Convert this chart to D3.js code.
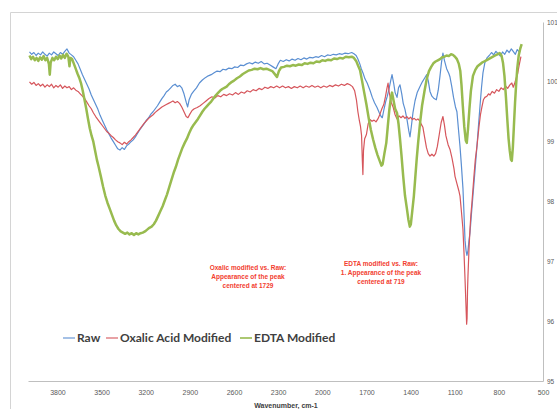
<!DOCTYPE html>
<html>
<head>
<meta charset="utf-8">
<script src="https://cdn.jsdelivr.net/npm/d3@7"></script>
<style>
  body { margin: 0; background: #fff; }
  svg { display: block; }
</style>
</head>
<body>
<svg id="chart"></svg>
<script>
// FTIR spectra, wavenumber (cm-1) vs transmittance
const wavenumberTicks = [3800, 3500, 3200, 2900, 2600, 2300, 2000, 1700, 1400, 1100, 800, 500];
const transmittanceTicks = [101, 100, 99, 98, 97, 96, 95];
const seriesNames = ['Raw', 'Oxalic Acid Modified', 'EDTA Modified'];
const seriesColors = ['#5b8fd2', '#d6565c', '#98bb4f'];

const rawSeries = [
  [3990,100.50],[3975,100.46],[3960,100.49],[3945,100.44],[3930,100.48],[3915,100.45],[3900,100.50],[3885,100.46],
  [3870,100.43],[3855,100.48],[3840,100.45],[3825,100.50],[3810,100.47],[3795,100.44],[3780,100.49],[3765,100.46],
  [3750,100.51],[3735,100.55],[3720,100.48],[3705,100.45],[3690,100.42],[3675,100.36],[3660,100.30],[3645,100.21],
  [3630,100.12],[3615,100.04],[3600,99.96],[3585,99.88],[3570,99.78],[3555,99.70],[3540,99.62],[3525,99.54],
  [3510,99.44],[3495,99.36],[3480,99.28],[3465,99.20],[3450,99.13],[3435,99.06],[3420,99.00],[3405,98.94],
  [3390,98.88],[3375,98.86],[3360,98.90],[3345,98.87],[3330,98.93],[3315,98.96],[3300,99.00],[3285,99.03],
  [3270,99.08],[3255,99.14],[3240,99.20],[3225,99.25],[3210,99.30],[3195,99.36],[3180,99.40],[3165,99.46],
  [3150,99.50],[3135,99.55],[3120,99.60],[3105,99.66],[3090,99.72],[3075,99.77],[3060,99.83],[3045,99.86],
  [3030,99.90],[3015,99.94],[3000,99.96],[2985,99.92],[2970,99.94],[2955,99.90],[2940,99.80],[2925,99.66],
  [2915,99.58],[2905,99.70],[2890,99.79],[2875,99.84],[2855,99.90],[2835,99.98],[2815,100.03],[2795,100.07],
  [2775,100.10],[2755,100.12],[2735,100.15],[2715,100.18],[2695,100.17],[2675,100.21],[2655,100.20],[2635,100.23],
  [2615,100.22],[2595,100.25],[2575,100.24],[2555,100.28],[2535,100.27],[2515,100.30],[2495,100.32],[2475,100.30],
  [2455,100.33],[2435,100.31],[2415,100.34],[2395,100.30],[2375,100.31],[2355,100.28],[2335,100.25],[2315,100.22],
  [2300,100.30],[2285,100.36],[2265,100.34],[2245,100.37],[2225,100.35],[2205,100.38],[2185,100.36],[2165,100.39],
  [2145,100.37],[2125,100.40],[2105,100.38],[2085,100.41],[2065,100.40],[2045,100.42],[2025,100.41],[2005,100.44],
  [1985,100.42],[1965,100.45],[1945,100.44],[1925,100.46],[1905,100.45],[1885,100.47],[1865,100.46],[1845,100.48],
  [1825,100.47],[1800,100.49],[1785,100.47],[1770,100.44],[1758,100.38],[1745,100.30],[1735,100.22],[1722,100.14],
  [1710,100.05],[1695,99.98],[1676,99.86],[1660,99.74],[1645,99.65],[1628,99.57],[1612,99.48],[1600,99.42],
  [1592,99.40],[1580,99.55],[1568,99.68],[1558,99.76],[1545,99.90],[1535,100.02],[1526,100.12],[1515,99.98],
  [1505,99.82],[1492,99.74],[1482,99.90],[1472,99.95],[1460,99.80],[1450,99.64],[1438,99.54],[1425,99.38],
  [1412,99.18],[1404,99.08],[1395,99.25],[1384,99.48],[1370,99.68],[1355,99.82],[1336,99.92],[1320,100.00],
  [1305,100.06],[1290,100.12],[1280,100.02],[1268,99.84],[1255,99.76],[1240,99.72],[1225,99.70],[1212,99.86],
  [1200,100.10],[1190,100.32],[1180,100.48],[1170,100.36],[1155,100.22],[1140,100.14],[1132,100.08],[1120,99.92],
  [1108,99.74],[1095,99.58],[1085,99.50],[1075,99.22],[1064,98.92],[1055,98.62],[1044,98.22],[1037,97.80],
  [1030,97.35],[1023,97.18],[1017,97.10],[1010,97.18],[1003,97.35],[996,97.48],[986,97.80],[976,98.10],
  [962,98.52],[949,98.92],[938,99.28],[928,99.60],[918,99.90],[908,100.15],[895,100.32],[881,100.40],
  [865,100.44],[850,100.49],[835,100.45],[820,100.51],[805,100.47],[790,100.43],[775,100.50],[760,100.46],
  [745,100.53],[730,100.49],[715,100.55],[700,100.50],[688,100.46],[675,100.54],[662,100.50],[652,100.58],[645,100.61]
];

const oxalicSeries = [
  [3990,100.00],[3975,99.96],[3960,99.99],[3945,99.94],[3930,99.97],[3915,99.93],[3900,99.96],[3885,99.91],
  [3870,99.95],[3855,99.92],[3840,99.96],[3825,99.90],[3810,99.94],[3795,99.91],[3780,99.95],[3765,99.89],
  [3750,99.93],[3735,99.90],[3720,99.92],[3705,99.87],[3690,99.90],[3675,99.86],[3660,99.84],[3645,99.80],
  [3630,99.76],[3615,99.72],[3600,99.66],[3585,99.60],[3570,99.55],[3555,99.48],[3540,99.42],[3525,99.37],
  [3510,99.32],[3495,99.27],[3480,99.22],[3465,99.17],[3450,99.14],[3435,99.10],[3420,99.07],[3405,99.03],
  [3390,99.00],[3375,98.98],[3360,98.95],[3345,98.99],[3330,98.96],[3315,99.00],[3300,99.03],[3285,99.07],
  [3270,99.11],[3255,99.16],[3240,99.21],[3225,99.26],[3210,99.31],[3195,99.35],[3180,99.39],[3165,99.42],
  [3150,99.45],[3135,99.49],[3120,99.52],[3105,99.55],[3090,99.58],[3075,99.60],[3060,99.62],[3045,99.64],
  [3030,99.66],[3015,99.68],[3000,99.65],[2985,99.67],[2970,99.64],[2955,99.58],[2940,99.50],[2925,99.42],
  [2913,99.40],[2900,99.46],[2885,99.52],[2870,99.55],[2850,99.57],[2830,99.60],[2810,99.64],[2790,99.68],
  [2770,99.72],[2750,99.75],[2730,99.73],[2710,99.77],[2690,99.75],[2670,99.79],[2650,99.77],[2630,99.80],
  [2610,99.78],[2590,99.82],[2570,99.79],[2550,99.83],[2530,99.81],[2510,99.85],[2490,99.83],[2470,99.87],
  [2450,99.85],[2430,99.89],[2410,99.87],[2390,99.91],[2370,99.89],[2350,99.92],[2330,99.90],[2310,99.93],
  [2290,99.90],[2270,99.93],[2250,99.90],[2230,99.92],[2210,99.89],[2190,99.92],[2170,99.90],[2150,99.93],
  [2130,99.90],[2110,99.93],[2090,99.91],[2070,99.94],[2050,99.91],[2030,99.93],[2010,99.90],[1990,99.93],
  [1970,99.91],[1950,99.94],[1930,99.92],[1910,99.95],[1890,99.93],[1870,99.96],[1850,99.94],[1830,99.97],
  [1812,99.95],[1795,99.92],[1780,99.85],[1768,99.70],[1758,99.50],[1748,99.35],[1740,99.25],[1733,99.10],
  [1728,98.70],[1724,98.45],[1720,98.85],[1712,99.05],[1700,99.12],[1688,99.30],[1676,99.37],[1662,99.34],
  [1648,99.36],[1635,99.33],[1622,99.38],[1608,99.46],[1595,99.55],[1582,99.62],[1570,99.76],[1560,99.90],
  [1553,99.98],[1545,99.82],[1532,99.66],[1519,99.58],[1505,99.45],[1492,99.38],[1478,99.43],[1465,99.40],
  [1452,99.43],[1438,99.39],[1425,99.42],[1412,99.38],[1400,99.41],[1388,99.37],[1375,99.39],[1362,99.36],
  [1350,99.38],[1336,99.34],[1325,99.28],[1316,99.24],[1305,99.08],[1292,98.90],[1280,98.80],[1268,98.76],
  [1255,98.79],[1242,98.76],[1230,98.80],[1218,98.92],[1205,99.12],[1192,99.32],[1180,99.42],[1170,99.28],
  [1160,99.10],[1145,98.95],[1132,98.87],[1118,98.72],[1105,98.55],[1098,98.42],[1085,98.30],[1072,98.18],
  [1064,98.09],[1055,97.85],[1044,97.54],[1037,97.15],[1030,96.71],[1024,96.30],[1019,95.95],[1016,96.05],
  [1013,96.50],[1010,96.75],[1003,97.20],[996,97.55],[990,97.78],[983,97.98],[970,98.40],[960,98.70],
  [949,98.92],[935,99.25],[925,99.45],[915,99.58],[905,99.70],[895,99.74],[881,99.76],[870,99.80],
  [860,99.78],[845,99.84],[830,99.81],[815,99.87],[800,99.84],[785,99.90],[770,99.87],[755,99.93],
  [740,99.89],[725,99.95],[712,99.98],[702,99.91],[692,99.98],[682,100.06],[672,100.14],[662,100.28],[650,100.42]
];

const edtaSeries = [
  [3990,100.44],[3978,100.38],[3966,100.42],[3954,100.36],[3942,100.40],[3930,100.35],[3918,100.41],[3906,100.37],
  [3894,100.43],[3882,100.36],[3870,100.40],[3858,100.30],[3852,100.12],[3846,100.32],[3834,100.40],[3822,100.36],
  [3810,100.42],[3798,100.38],[3786,100.44],[3774,100.39],[3762,100.45],[3750,100.40],[3738,100.47],[3726,100.42],
  [3718,100.26],[3712,100.40],[3700,100.38],[3688,100.30],[3676,100.22],[3664,100.14],[3652,100.07],[3640,99.98],
  [3628,99.85],[3616,99.70],[3604,99.55],[3592,99.38],[3580,99.22],[3568,99.10],[3556,99.00],[3544,98.85],
  [3532,98.70],[3520,98.58],[3505,98.42],[3490,98.25],[3475,98.10],[3460,97.98],[3445,97.88],[3430,97.78],
  [3415,97.68],[3400,97.60],[3385,97.54],[3370,97.50],[3355,97.48],[3340,97.46],[3325,97.48],[3310,97.45],
  [3295,97.47],[3280,97.44],[3265,97.47],[3250,97.45],[3235,97.47],[3220,97.48],[3205,97.50],[3190,97.53],
  [3175,97.56],[3160,97.58],[3145,97.62],[3130,97.68],[3115,97.76],[3100,97.84],[3085,97.92],[3070,98.02],
  [3055,98.12],[3040,98.24],[3025,98.36],[3010,98.48],[2995,98.58],[2980,98.70],[2965,98.80],[2950,98.90],
  [2935,98.98],[2920,99.05],[2905,99.14],[2890,99.22],[2875,99.28],[2860,99.33],[2845,99.38],[2830,99.44],
  [2815,99.50],[2800,99.55],[2785,99.59],[2770,99.63],[2755,99.67],[2740,99.72],[2725,99.77],[2710,99.81],
  [2695,99.85],[2680,99.88],[2665,99.90],[2650,99.92],[2635,99.96],[2620,99.99],[2600,100.02],[2580,100.06],
  [2560,100.09],[2540,100.13],[2520,100.16],[2500,100.19],[2480,100.20],[2460,100.22],[2440,100.21],[2420,100.23],
  [2400,100.21],[2380,100.22],[2360,100.20],[2340,100.18],[2320,100.12],[2308,100.08],[2295,100.18],[2280,100.24],
  [2260,100.25],[2240,100.27],[2220,100.26],[2200,100.28],[2180,100.27],[2160,100.29],[2140,100.28],[2120,100.31],
  [2100,100.30],[2080,100.32],[2060,100.31],[2040,100.34],[2020,100.33],[2000,100.36],[1980,100.35],[1960,100.37],
  [1940,100.36],[1920,100.39],[1900,100.38],[1880,100.40],[1860,100.39],[1840,100.42],[1820,100.41],[1800,100.42],
  [1785,100.40],[1770,100.35],[1755,100.26],[1744,100.20],[1730,100.02],[1715,99.82],[1700,99.62],[1685,99.40],
  [1670,99.20],[1655,99.04],[1640,98.90],[1625,98.78],[1610,98.68],[1598,98.60],[1590,98.62],[1578,98.80],
  [1565,98.98],[1555,99.25],[1545,99.52],[1535,99.72],[1526,99.82],[1515,99.68],[1505,99.55],[1492,99.48],
  [1482,99.30],[1472,99.05],[1462,98.78],[1450,98.42],[1438,98.10],[1425,97.88],[1415,97.70],[1405,97.58],
  [1398,97.62],[1388,97.85],[1378,98.08],[1368,98.40],[1358,98.72],[1348,99.00],[1336,99.30],[1322,99.60],
  [1305,99.85],[1290,100.05],[1275,100.18],[1260,100.25],[1245,100.31],[1230,100.34],[1215,100.36],[1200,100.38],
  [1185,100.41],[1170,100.42],[1155,100.44],[1140,100.43],[1125,100.46],[1112,100.45],[1098,100.42],[1085,100.38],
  [1072,100.30],[1062,100.18],[1054,99.95],[1045,99.60],[1035,99.25],[1025,99.02],[1018,98.98],[1010,99.20],
  [1000,99.55],[990,99.85],[976,100.10],[960,100.20],[945,100.26],[930,100.29],[915,100.32],[900,100.34],
  [885,100.36],[870,100.38],[855,100.40],[840,100.42],[825,100.44],[810,100.46],[795,100.48],[782,100.44],
  [772,100.32],[762,100.10],[752,99.75],[742,99.35],[734,99.05],[726,98.85],[718,98.70],[712,98.68],
  [705,98.90],[698,99.25],[690,99.65],[682,99.98],[675,100.22],[665,100.44],[655,100.55],[645,100.63]
];

const width = 557;
const height = 409;

const svg = d3.select('#chart')
  .attr('width', width)
  .attr('height', height);

// chart frame
svg.append('path')
  .attr('d', `M10.5,${height} V12.5 H${width}`)
  .attr('fill', 'none')
  .attr('stroke', '#d4d4d4');

const xScale = d3.scaleLinear()
  .domain([4000, 500])
  .range([28, 543]);

const yScale = d3.scaleLinear()
  .domain([95, 101])
  .range([381, 22]);

const xAxis = d3.axisBottom(xScale)
  .tickValues(wavenumberTicks)
  .tickFormat(d3.format('d'))
  .tickSize(0)
  .tickPadding(9)
  .tickSizeOuter(0);

const yAxis = d3.axisRight(yScale)
  .tickValues(transmittanceTicks)
  .tickFormat(d3.format('d'))
  .tickSize(0)
  .tickPadding(4)
  .tickSizeOuter(0);

const gx = svg.append('g')
  .attr('transform', 'translate(0, 381)')
  .call(xAxis);

const gy = svg.append('g')
  .attr('transform', 'translate(543, 0)')
  .call(yAxis);

[gx, gy].forEach(g => {
  g.select('.domain').attr('stroke', '#bfbfbf');
  g.selectAll('text')
    .attr('fill', '#595959')
    .style('font-family', 'Liberation Sans, Arial, sans-serif')
    .style('font-size', '7px');
});
gy.selectAll('text').style('font-size', '6.5px');

svg.append('text')
  .attr('x', 286)
  .attr('y', 408)
  .attr('text-anchor', 'middle')
  .attr('fill', '#404040')
  .style('font-family', 'Liberation Sans, Arial, sans-serif')
  .style('font-size', '7px')
  .style('font-weight', 'bold')
  .text('Wavenumber, cm-1');

const line = d3.line()
  .x(d => xScale(d[0]))
  .y(d => yScale(d[1]));

const allSeries = [rawSeries, oxalicSeries, edtaSeries];
const lineWidths = [1.2, 1.2, 2.5];

allSeries.forEach((data, i) => {
  svg.append('path')
    .datum(data)
    .attr('d', line)
    .attr('fill', 'none')
    .attr('stroke', seriesColors[i])
    .attr('stroke-width', lineWidths[i])
    .attr('stroke-linejoin', 'round');
});

// notes in red
const notes = [
  { x: 248, y: 270, lines: ['Oxalic modified vs. Raw:', 'Appearance of the peak', 'centered at 1729'] },
  { x: 381, y: 266, lines: ['EDTA modified vs. Raw:', '1. Appearance of the peak', 'centered at 719'] }
];

notes.forEach(n => {
  const t = svg.append('text')
    .attr('text-anchor', 'middle')
    .attr('fill', '#f2402f')
    .style('font-family', 'Liberation Sans, Arial, sans-serif')
    .style('font-size', '6.5px')
    .style('font-weight', 'bold');
  n.lines.forEach((s, k) => {
    t.append('tspan')
      .attr('x', n.x)
      .attr('y', n.y + k * 9)
      .text(s);
  });
});

// legend
const legendX = [63, 106, 240];
const legend = svg.append('g');
seriesNames.forEach((name, i) => {
  const g = legend.append('g').attr('transform', `translate(${legendX[i]}, 338)`);
  g.append('line')
    .attr('x1', 0).attr('x2', 12)
    .attr('stroke', seriesColors[i])
    .attr('stroke-width', i === 2 ? 1.6 : 1.1);
  g.append('text')
    .attr('x', 14)
    .attr('dy', '0.35em')
    .attr('fill', '#404040')
    .style('font-family', 'Lato, sans-serif')
    .style('font-size', '12px')
    .style('font-weight', 'bold')
    .text(name);
});
</script>
</body>
</html>
